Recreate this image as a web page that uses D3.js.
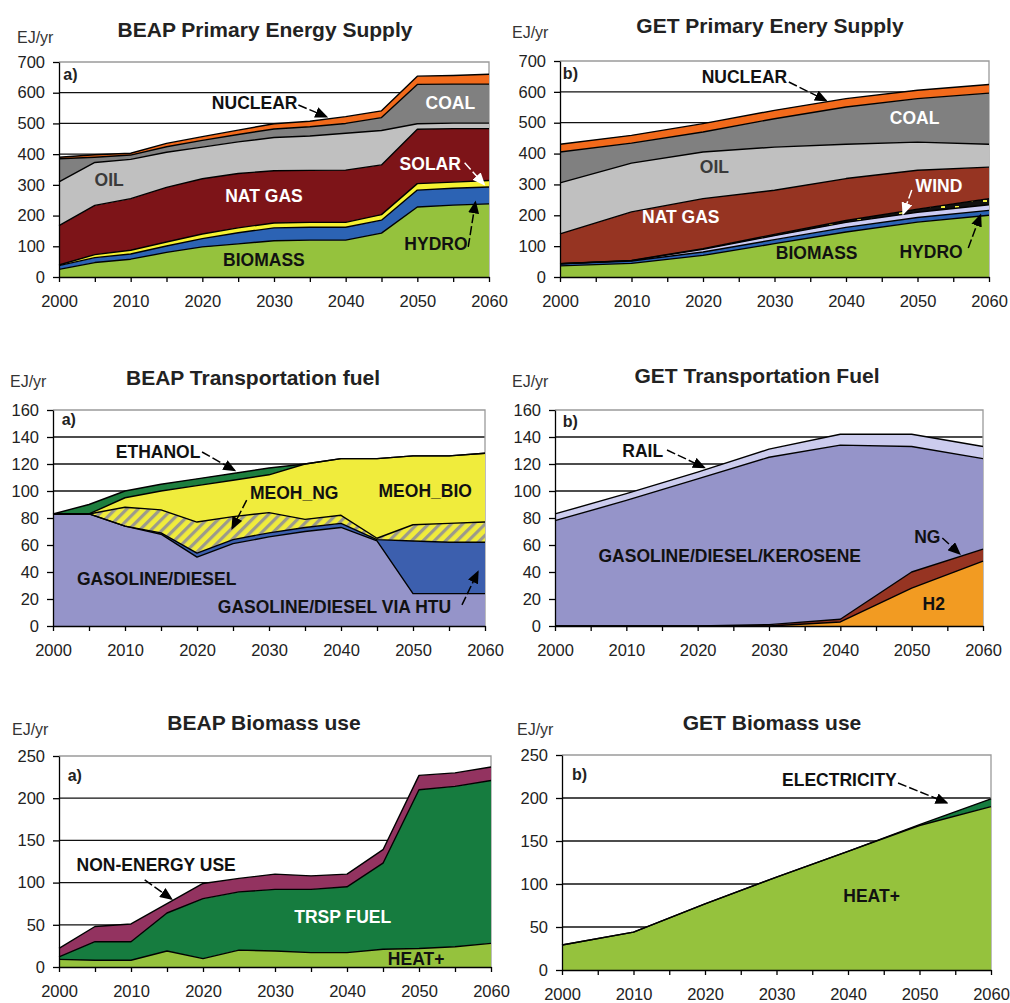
<!DOCTYPE html>
<html>
<head>
<meta charset="utf-8">
<script src="https://cdn.jsdelivr.net/npm/d3@7"></script>
<style>
  body { margin: 0; background: #fff; }
  svg text { font-family: "Liberation Sans", Arial, sans-serif; }
</style>
</head>
<body>
<div id="chart"></div>
<script>
// ---- data (EJ/yr) ----
var years5 = [2000, 2005, 2010, 2015, 2020, 2025, 2030, 2035, 2040, 2045, 2050, 2055, 2060];
var years10 = [2000, 2010, 2020, 2030, 2040, 2050, 2060];

// BEAP primary energy supply
var beapBiomass = [25, 47, 58, 80, 98, 108, 118, 120, 120, 143, 228, 234, 238];
var beapHydro   = [12, 16, 17, 21, 27, 36, 42, 42, 42, 42, 55, 55, 55];
var beapSolar   = [2, 10, 12, 13, 15, 16, 16, 16, 16, 18, 21, 20, 21];
var beapNatGas  = [128, 160, 168, 178, 180, 177, 170, 169, 170, 162, 177, 174, 169];
var beapOil     = [143, 140, 128, 114, 103, 103, 108, 112, 120, 112, 18, 18, 18];
var beapCoal    = [75, 17, 14, 18, 22, 24, 28, 30, 32, 42, 128, 127, 127];
var beapNuclear = [5, 8, 6, 11, 12, 14, 17, 18, 22, 22, 27, 28, 32];

// GET primary energy supply
var getBiomass = [36, 44, 70, 108, 146, 178, 200];
var getHydro   = [7, 8, 11, 13, 15, 15, 16];
var getWind    = [0, 1, 9, 13, 16, 17, 18];
var getSolar   = [0, 1, 2, 4, 6, 10, 20];
var getNatGas  = [97, 157, 162, 143, 136, 126, 102];
var getOil     = [165, 158, 151, 140, 111, 91, 74];
var getCoal    = [100, 65, 65, 92, 121, 141, 166];
var getNuclear = [25, 25, 27, 27, 27, 27, 28];

// BEAP transportation fuel
var beapGasoline = [83, 83, 74, 68, 51, 61, 66, 70, 73, 63, 24, 24, 24];
var beapHtu      = [0, 0, 0, 1, 3, 3, 3, 3, 3, 1, 39, 38, 38];
var beapMeohNg   = [0, 0, 14, 17, 23, 17, 15, 6, 6, 1, 12, 14, 15];
var beapMeohBio  = [0, 0, 7, 14, 27, 27, 28, 41, 42, 59, 51, 50, 51];
var beapEthanol  = [0, 7, 5, 5, 5, 5, 5, 0, 0, 0, 0, 0, 0];

// GET transportation fuel
var getH2       = [0, 0, 0, 0, 3, 28, 48];
var getNgFuel   = [0, 0, 0, 1, 2, 12, 9];
var getGasoline = [78, 93, 109, 124, 129, 93, 67];
var getRail     = [5, 5, 5, 6, 8, 9, 9];

// BEAP biomass use
var beapHeat      = [9, 8, 8, 19, 10, 20, 19, 17, 17, 21, 22, 24, 28];
var beapTrsp      = [3, 22, 22, 45, 71, 69, 73, 75, 78, 102, 188, 190, 193];
var beapNonEnergy = [10, 18, 21, 11, 18, 16, 18, 16, 15, 16, 17, 16, 16];

// GET biomass use
var getHeat        = [29, 44, 77, 108, 138, 168, 190];
var getElectricity = [0, 0, 0, 0, 0, 1, 9];

// ---- chart ----
var width = 1010, height = 1003;

var svg = d3.select("#chart")
    .append("svg")
    .attr("width", width)
    .attr("height", height);

var defs = svg.append("defs");

// diagonal hatch for MEOH_NG
var hatch = defs.append("pattern")
    .attr("id", "hatch")
    .attr("patternUnits", "userSpaceOnUse")
    .attr("width", 8).attr("height", 8)
    .attr("patternTransform", "rotate(45)");
hatch.append("rect").attr("width", 8).attr("height", 8).attr("fill", "#f0ec3c");
hatch.append("rect").attr("width", 3.2).attr("height", 8).attr("fill", "#9c9a8c");

// black band with yellow dots (GET solar)
var dots = defs.append("pattern")
    .attr("id", "dots")
    .attr("patternUnits", "userSpaceOnUse")
    .attr("width", 14).attr("height", 6);
dots.append("rect").attr("width", 14).attr("height", 6).attr("fill", "#111");
dots.append("rect").attr("x", 3).attr("y", 2).attr("width", 4).attr("height", 2).attr("fill", "#f4f040");

// arrow heads
[["arrowBlack", "#000"], ["arrowWhite", "#fff"]].forEach(function (m) {
    defs.append("marker")
        .attr("id", m[0])
        .attr("markerUnits", "userSpaceOnUse")
        .attr("markerWidth", 13).attr("markerHeight", 11)
        .attr("refX", 11).attr("refY", 5.5)
        .attr("orient", "auto")
        .append("path")
        .attr("d", "M0,0 L13,5.5 L0,11 Z")
        .attr("fill", m[1]);
});

var panels = [
    {
        title: "BEAP Primary Energy Supply", titleX: 265, titleY: 37, unitX: 17, unitY: 43,
        left: 59, right: 489, top: 62, bottom: 277, yMax: 700, yStep: 100, years: years5,
        series: [
            { name: "BIOMASS", values: beapBiomass, fill: "#95c23d" },
            { name: "HYDRO", values: beapHydro, fill: "#2c63b4" },
            { name: "SOLAR", values: beapSolar, fill: "#f6f232" },
            { name: "NAT GAS", values: beapNatGas, fill: "#7d1418" },
            { name: "OIL", values: beapOil, fill: "#c0c0c0" },
            { name: "COAL", values: beapCoal, fill: "#808080" },
            { name: "NUCLEAR", values: beapNuclear, fill: "#f26a1b" }
        ],
        tag: { text: "a)", x: 2000.6, y: 641 },
        labels: [
            { text: "NUCLEAR", x: 2027.3, y: 547, color: "#111" },
            { text: "COAL", x: 2054.6, y: 547, color: "#fff" },
            { text: "OIL", x: 2007.0, y: 296, color: "#3a3a3a" },
            { text: "NAT GAS", x: 2028.6, y: 244, color: "#fff" },
            { text: "SOLAR", x: 2051.8, y: 348, color: "#fff" },
            { text: "HYDRO", x: 2052.6, y: 88, color: "#111" },
            { text: "BIOMASS", x: 2028.6, y: 36, color: "#111" }
        ],
        arrows: [
            { x1: 2033.4, y1: 560, x2: 2037.3, y2: 522, color: "#000" },
            { x1: 2056.6, y1: 372, x2: 2059.3, y2: 302, color: "#fff" },
            { x1: 2057.1, y1: 98, x2: 2058.1, y2: 243, color: "#000" }
        ]
    },
    {
        title: "GET Primary Enery Supply", titleX: 770, titleY: 33, unitX: 512, unitY: 38,
        left: 560, right: 989, top: 61, bottom: 277, yMax: 700, yStep: 100, years: years10,
        series: [
            { name: "BIOMASS", values: getBiomass, fill: "#95c23d" },
            { name: "HYDRO", values: getHydro, fill: "#2c63b4" },
            { name: "WIND", values: getWind, fill: "#ccccf4" },
            { name: "SOLAR", values: getSolar, fill: "url(#dots)" },
            { name: "NAT GAS", values: getNatGas, fill: "#963422" },
            { name: "OIL", values: getOil, fill: "#c0c0c0" },
            { name: "COAL", values: getCoal, fill: "#808080" },
            { name: "NUCLEAR", values: getNuclear, fill: "#f26a1b" }
        ],
        tag: { text: "b)", x: 2000.4, y: 642 },
        labels: [
            { text: "NUCLEAR", x: 2025.8, y: 629, color: "#111" },
            { text: "COAL", x: 2049.6, y: 496, color: "#fff" },
            { text: "OIL", x: 2021.6, y: 337, color: "#3a3a3a" },
            { text: "NAT GAS", x: 2016.9, y: 175, color: "#fff" },
            { text: "WIND", x: 2053.0, y: 275, color: "#fff" },
            { text: "BIOMASS", x: 2035.9, y: 58, color: "#111" },
            { text: "HYDRO", x: 2051.9, y: 62, color: "#111" }
        ],
        arrows: [
            { x1: 2032.0, y1: 632, x2: 2037.2, y2: 572, color: "#000" },
            { x1: 2049.2, y1: 282, x2: 2048.0, y2: 205, color: "#fff" },
            { x1: 2057.1, y1: 94, x2: 2058.8, y2: 200, color: "#000" }
        ]
    },
    {
        title: "BEAP Transportation fuel", titleX: 253, titleY: 385, unitX: 10, unitY: 387,
        left: 53, right: 485, top: 410, bottom: 626, yMax: 160, yStep: 20, years: years5,
        series: [
            { name: "GASOLINE/DIESEL", values: beapGasoline, fill: "#9594c9" },
            { name: "GASOLINE/DIESEL VIA HTU", values: beapHtu, fill: "#3c5fae" },
            { name: "MEOH_NG", values: beapMeohNg, fill: "url(#hatch)" },
            { name: "MEOH_BIO", values: beapMeohBio, fill: "#f0ec3c" },
            { name: "ETHANOL", values: beapEthanol, fill: "#1d7e3e" }
        ],
        tag: { text: "a)", x: 2001.2, y: 149 },
        labels: [
            { text: "ETHANOL", x: 2014.6, y: 124.4, color: "#111" },
            { text: "MEOH_NG", x: 2033.5, y: 94.1, color: "#111" },
            { text: "MEOH_BIO", x: 2051.7, y: 95.6, color: "#111" },
            { text: "GASOLINE/DIESEL", x: 2014.4, y: 30.4, color: "#111" },
            { text: "GASOLINE/DIESEL VIA HTU", x: 2039.1, y: 9.6, color: "#111" }
        ],
        arrows: [
            { x1: 2020.7, y1: 128.9, x2: 2025.2, y2: 115.3, color: "#000" },
            { x1: 2026.9, y1: 93.3, x2: 2024.9, y2: 72.5, color: "#000" },
            { x1: 2056.8, y1: 15.6, x2: 2059.0, y2: 40, color: "#000" }
        ]
    },
    {
        title: "GET Transportation Fuel", titleX: 757, titleY: 383, unitX: 512, unitY: 387,
        left: 555, right: 983, top: 410, bottom: 626, yMax: 160, yStep: 20, years: years10,
        series: [
            { name: "H2", values: getH2, fill: "#f29b22" },
            { name: "NG", values: getNgFuel, fill: "#963422" },
            { name: "GASOLINE/DIESEL/KEROSENE", values: getGasoline, fill: "#9594c9" },
            { name: "RAIL", values: getRail, fill: "#ccccee" }
        ],
        tag: { text: "b)", x: 2001.1, y: 147.4 },
        labels: [
            { text: "RAIL", x: 2012.3, y: 125.2, color: "#111" },
            { text: "GASOLINE/DIESEL/KEROSENE", x: 2024.5, y: 47.4, color: "#111" },
            { text: "NG", x: 2052.2, y: 61.5, color: "#111" },
            { text: "H2", x: 2053.1, y: 11.9, color: "#111" }
        ],
        arrows: [
            { x1: 2015.7, y1: 130.4, x2: 2020.9, y2: 117.4, color: "#000" },
            { x1: 2054.3, y1: 65.2, x2: 2056.7, y2: 53.6, color: "#000" }
        ]
    },
    {
        title: "BEAP Biomass use", titleX: 264, titleY: 730, unitX: 12, unitY: 735,
        left: 59, right: 491, top: 756, bottom: 967, yMax: 250, yStep: 50, years: years5,
        series: [
            { name: "HEAT+", values: beapHeat, fill: "#95c23d" },
            { name: "TRSP FUEL", values: beapTrsp, fill: "#167c3f" },
            { name: "NON-ENERGY USE", values: beapNonEnergy, fill: "#933360" }
        ],
        tag: { text: "a)", x: 2001.2, y: 220.4 },
        labels: [
            { text: "NON-ENERGY USE", x: 2013.5, y: 113.7, color: "#111" },
            { text: "TRSP FUEL", x: 2039.4, y: 52.1, color: "#fff" },
            { text: "HEAT+", x: 2049.6, y: 2.4, color: "#111" }
        ],
        arrows: [
            { x1: 2011.9, y1: 103.1, x2: 2015.6, y2: 80.8, color: "#000" }
        ]
    },
    {
        title: "GET Biomass use", titleX: 772, titleY: 730, unitX: 517, unitY: 735,
        left: 562, right: 991, top: 755, bottom: 970, yMax: 250, yStep: 50, years: years10,
        series: [
            { name: "HEAT+", values: getHeat, fill: "#95c23d" },
            { name: "ELECTRICITY", values: getElectricity, fill: "#167c3f" }
        ],
        tag: { text: "b)", x: 2001.4, y: 220.9 },
        labels: [
            { text: "ELECTRICITY", x: 2038.8, y: 214, color: "#111" },
            { text: "HEAT+", x: 2043.3, y: 79, color: "#111" }
        ],
        arrows: [
            { x1: 2047.0, y1: 217.4, x2: 2053.8, y2: 194.5, color: "#000" }
        ]
    }
];

panels.forEach(drawPanel);

function drawPanel(p) {
    var x = d3.scaleLinear().domain([2000, 2060]).range([p.left, p.right]);
    var y = d3.scaleLinear().domain([0, p.yMax]).range([p.bottom, p.top]);

    var keys = p.series.map(function (s) { return s.name; });
    var rows = p.years.map(function (yr, i) {
        var r = { year: yr };
        p.series.forEach(function (s) { r[s.name] = s.values[i]; });
        return r;
    });
    var stacked = d3.stack().keys(keys)(rows);

    var g = svg.append("g");

    // gridlines
    g.selectAll(".grid")
        .data(d3.range(p.yStep, p.yMax, p.yStep))
        .enter().append("line")
        .attr("class", "grid")
        .attr("x1", p.left).attr("x2", p.right)
        .attr("y1", function (d) { return y(d); })
        .attr("y2", function (d) { return y(d); })
        .attr("stroke", "#111")
        .attr("stroke-width", 1.3);

    // plot area border (top and right)
    g.append("path")
        .attr("d", "M" + p.left + "," + y(p.yMax) + "H" + p.right + "V" + p.bottom)
        .attr("fill", "none")
        .attr("stroke", "#9a9a9a")
        .attr("stroke-width", 1.3);

    var area = d3.area()
        .x(function (d) { return x(d.data.year); })
        .y0(function (d) { return y(d[0]); })
        .y1(function (d) { return y(d[1]); });

    var topLine = d3.line()
        .x(function (d) { return x(d.data.year); })
        .y(function (d) { return y(d[1]); });

    g.selectAll(".layer")
        .data(stacked)
        .enter().append("path")
        .attr("class", "layer")
        .attr("d", area)
        .attr("fill", function (d, i) { return p.series[i].fill; });

    g.selectAll(".edge")
        .data(stacked)
        .enter().append("path")
        .attr("class", "edge")
        .attr("d", topLine)
        .attr("fill", "none")
        .attr("stroke", "#000")
        .attr("stroke-width", 1.4)
        .attr("stroke-linejoin", "round");

    // axes
    var yAxis = d3.axisLeft(y)
        .tickValues(d3.range(0, p.yMax + 1, p.yStep))
        .tickSize(6)
        .tickSizeOuter(0)
        .tickPadding(8);

    var xAxis = d3.axisBottom(x)
        .tickValues(d3.range(2000, 2061, 5))
        .tickSize(5)
        .tickSizeOuter(0)
        .tickPadding(13)
        .tickFormat(function (d) { return d % 10 === 0 ? d : ""; });

    var ya = g.append("g")
        .attr("transform", "translate(" + p.left + ",0)")
        .call(yAxis);
    var xa = g.append("g")
        .attr("transform", "translate(0," + p.bottom + ")")
        .call(xAxis);

    [ya, xa].forEach(function (a) {
        a.selectAll("path, line").attr("stroke", "#000").attr("stroke-width", 1.3);
        a.selectAll("text")
            .attr("fill", "#222")
            .style("font-size", "16.5px")
            .style("font-family", '"Liberation Sans", Arial, sans-serif');
    });

    // title and unit
    g.append("text")
        .attr("x", p.titleX).attr("y", p.titleY)
        .attr("text-anchor", "middle")
        .attr("fill", "#222")
        .style("font-size", "21px")
        .style("font-weight", "bold")
        .text(p.title);

    g.append("text")
        .attr("x", p.unitX).attr("y", p.unitY)
        .attr("fill", "#333")
        .style("font-size", "16px")
        .text("EJ/yr");

    g.append("text")
        .attr("x", x(p.tag.x)).attr("y", y(p.tag.y))
        .attr("fill", "#222")
        .style("font-size", "16px")
        .style("font-weight", "bold")
        .text(p.tag.text);

    // arrows
    g.selectAll(".arrow")
        .data(p.arrows)
        .enter().append("line")
        .attr("class", "arrow")
        .attr("x1", function (d) { return x(d.x1); })
        .attr("y1", function (d) { return y(d.y1); })
        .attr("x2", function (d) { return x(d.x2); })
        .attr("y2", function (d) { return y(d.y2); })
        .attr("stroke", function (d) { return d.color; })
        .attr("stroke-width", 1.5)
        .attr("stroke-dasharray", "9,3")
        .attr("marker-end", function (d) {
            return d.color === "#fff" ? "url(#arrowWhite)" : "url(#arrowBlack)";
        });

    // series labels
    g.selectAll(".lbl")
        .data(p.labels)
        .enter().append("text")
        .attr("class", "lbl")
        .attr("x", function (d) { return x(d.x); })
        .attr("y", function (d) { return y(d.y); })
        .attr("text-anchor", "middle")
        .attr("fill", function (d) { return d.color; })
        .style("font-size", "17.5px")
        .style("font-weight", "bold")
        .text(function (d) { return d.text; });
}
</script>
</body>
</html>
